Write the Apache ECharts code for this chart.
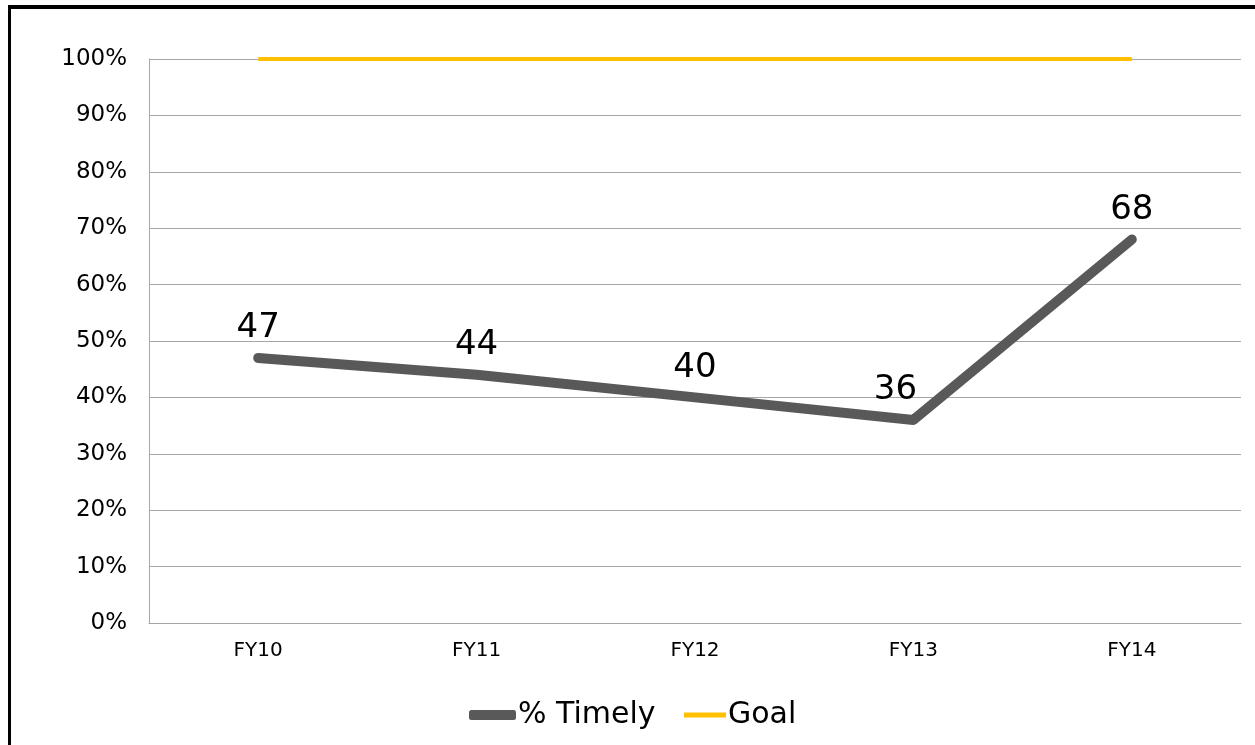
<!DOCTYPE html>
<html>
<head>
<meta charset="utf-8">
<script src="https://cdn.jsdelivr.net/npm/echarts@6/dist/echarts.min.js"></script>
<style>
html,body{margin:0;padding:0;background:#fff;overflow:hidden;}
#wrap{position:relative;width:1255px;height:745px;overflow:hidden;}
#chart{position:absolute;left:0;top:0;width:1255px;height:745px;}
#topline{position:absolute;left:8px;top:5px;width:1247px;height:4px;background:#000;}
#leftline{position:absolute;left:8px;top:5px;width:3px;height:740px;background:#000;}
</style>
</head>
<body>
<div id="wrap"><div id="chart"></div><div id="topline"></div><div id="leftline"></div></div>
<script>
var categories = ['FY10','FY11','FY12','FY13','FY14'];
var timely = [47, 44, 40, 36, 68];
var goal = [100, 100, 100, 100, 100];
var yTicks = [0,10,20,30,40,50,60,70,80,90,100];

var chart = echarts.init(document.getElementById('chart'));
var font = '"DejaVu Sans", Verdana, sans-serif';
var timelyData = timely.map(function(v, i){
  return i === 3 ? {value: v, label: {offset: [-18, 0]}} : v;
});
chart.setOption({
  animation: false,
  textStyle: {fontFamily: font},
  grid: {left: 149, right: 14, top: 59, bottom: 122, containLabel: false},
  legend: [{
    data: [{name: '% Timely', icon: 'roundRect', itemStyle: {color: '#595959', opacity: 1}}],
    left: 464, top: 695,
    itemWidth: 47, itemHeight: 10, itemGap: 0,
    textStyle: {fontSize: 30, color: '#000', fontFamily: font, padding: [0,0,0,-3]}
  },{
    data: [{name: 'Goal', icon: 'rect', itemStyle: {color: '#FFC000'}}],
    left: 679, top: 695,
    itemWidth: 42, itemHeight: 5,
    textStyle: {fontSize: 30, color: '#000', fontFamily: font, padding: [0,0,0,-3]}
  }],
  xAxis: {
    type: 'category',
    data: categories,
    boundaryGap: true,
    axisLine: {show: true, lineStyle: {color: '#a6a6a6', width: 1}},
    axisTick: {show: false},
    axisLabel: {fontSize: 20, color: '#000', margin: 18, fontFamily: font}
  },
  yAxis: {
    type: 'value',
    min: 0, max: 100, interval: 10,
    axisLine: {show: true, lineStyle: {color: '#a6a6a6', width: 1}},
    axisTick: {show: false},
    splitLine: {show: true, lineStyle: {color: '#a6a6a6', width: 1}},
    axisLabel: {fontSize: 23, color: '#000', margin: 22, fontFamily: font,
      formatter: function(v){ return yTicks.indexOf(v) >= 0 ? v + '%' : ''; }}
  },
  series: [{
    name: '% Timely',
    type: 'line',
    data: timelyData,
    symbol: 'circle',
    symbolSize: 1,
    showSymbol: true,
    color: '#595959',
    itemStyle: {color: 'rgba(0,0,0,0)', borderWidth: 0},
    lineStyle: {color: '#595959', width: 10, cap: 'round', join: 'round'},
    label: {show: true, position: 'top', distance: 12, fontSize: 34, color: '#000', fontFamily: font},
    emphasis: {disabled: true},
    z: 3
  },{
    name: 'Goal',
    type: 'line',
    data: goal,
    symbol: 'none',
    color: '#FFC000',
    lineStyle: {color: '#FFC000', width: 4},
    emphasis: {disabled: true},
    z: 2
  }]
});
</script>
</body>
</html>
